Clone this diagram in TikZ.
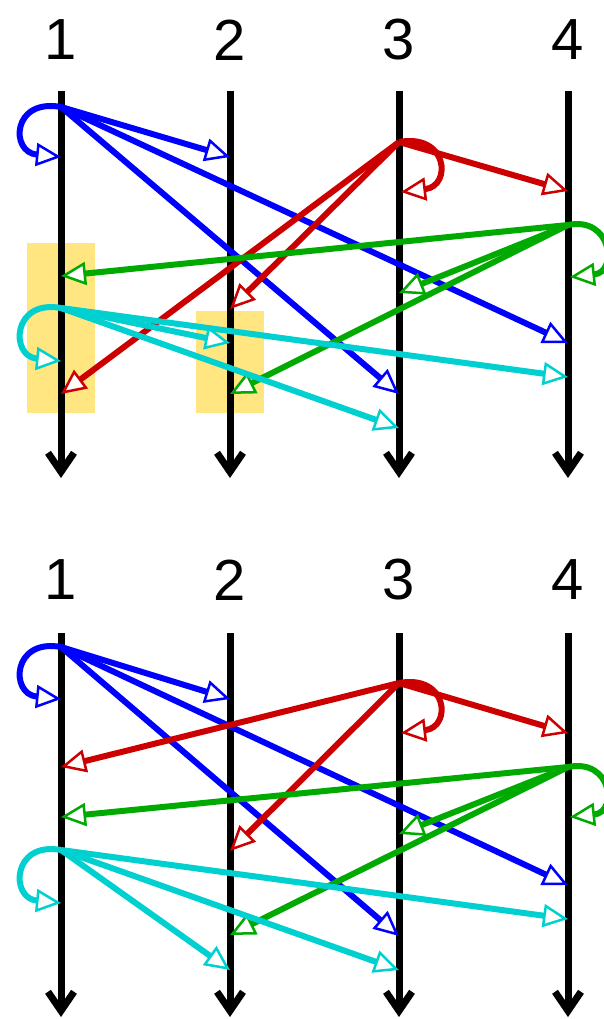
\documentclass[tikz,border=0pt]{standalone}
\usepackage{fontspec}
\setmainfont{Liberation Sans}
\usetikzlibrary{arrows.meta}
\definecolor{msgblue}{RGB}{0,0,255}
\definecolor{msgred}{RGB}{204,0,0}
\definecolor{msggreen}{RGB}{0,170,0}
\definecolor{msgcyan}{RGB}{0,208,208}
\definecolor{hiyellow}{RGB}{255,230,128}
\tikzset{
  proc/.style={line width=7pt, -{Straight Barb[length=19pt,width=26pt]}},
  msg/.style={line width=6pt, -{Triangle[fill=white,length=25pt,width=23pt,line width=2.5pt]}},
  pid/.style={font=\fontsize{58}{58}\selectfont, inner sep=0pt},
  hilite/.style={fill=hiyellow}
}
\begin{document}
\begin{tikzpicture}[x=1pt, y=-1pt]
            \useasboundingbox (0,0) rectangle (603,1019);
            % highlighted receive windows
            \fill[hilite] (27,243) rectangle (95,413);
            \fill[hilite] (196,311) rectangle (264,413);
            % processes, upper run
            \node[pid] (ta) at (61,40) {1};
            \node[pid] (tb) at (230,40) {2};
            \node[pid] (tc) at (399,40) {3};
            \node[pid] (td) at (568,40) {4};
            \coordinate (ta0) at (61,91);  \coordinate (ta1) at (61,478);
            \coordinate (tb0) at (230,91); \coordinate (tb1) at (230,478);
            \coordinate (tc0) at (399,91); \coordinate (tc1) at (399,478);
            \coordinate (td0) at (568,91); \coordinate (td1) at (568,478);
            \draw[proc] (ta0) -- (ta1);
            \draw[proc] (tb0) -- (tb1);
            \draw[proc] (tc0) -- (tc1);
            \draw[proc] (td0) -- (td1);
            \coordinate (tblue) at (61,107);
            \coordinate (tred) at (399,142);
            \coordinate (tgreen) at (568,225);
            \coordinate (tcyan) at (61,308);
            \draw[msg, msgblue] (tblue) .. controls (12,98) and (10,152) .. (61,157);
            \draw[msg, msgblue] (tblue) -- (230,157);
            \draw[msg, msgblue] (tblue) -- (568,343);
            \draw[msg, msgblue] (tblue) -- (399,394);
            \draw[msg, msgred] (tred) .. controls (448,133) and (452,186) .. (401,192);
            \draw[msg, msgred] (tred) -- (568,191);
            \draw[msg, msgred] (tred) -- (230,309);
            \draw[msg, msgred] (tred) -- (61,394);
            \draw[msg, msggreen] (tgreen) .. controls (612,216) and (618,272) .. (570,277);
            \draw[msg, msggreen] (tgreen) -- (61,276);
            \draw[msg, msggreen] (tgreen) -- (399,293);
            \draw[msg, msggreen] (tgreen) -- (230,394);
            \draw[msg, msgcyan] (tcyan) .. controls (12,299) and (10,356) .. (61,361);
            \draw[msg, msgcyan] (tcyan) -- (230,343);
            \draw[msg, msgcyan] (tcyan) -- (568,377);
            \draw[msg, msgcyan] (tcyan) -- (399,428);
            % processes, lower run
            \node[pid] (ba) at (61,580) {1};
            \node[pid] (bb) at (230,580) {2};
            \node[pid] (bc) at (399,580) {3};
            \node[pid] (bd) at (568,580) {4};
            \coordinate (ba0) at (61,633);  \coordinate (ba1) at (61,1017);
            \coordinate (bb0) at (230,633); \coordinate (bb1) at (230,1017);
            \coordinate (bc0) at (399,633); \coordinate (bc1) at (399,1017);
            \coordinate (bd0) at (568,633); \coordinate (bd1) at (568,1017);
            \draw[proc] (ba0) -- (ba1);
            \draw[proc] (bb0) -- (bb1);
            \draw[proc] (bc0) -- (bc1);
            \draw[proc] (bd0) -- (bd1);
            \coordinate (bblue) at (61,647);
            \coordinate (bred) at (399,683);
            \coordinate (bgreen) at (568,767);
            \coordinate (bcyan) at (61,850);
            \draw[msg, msgblue] (bblue) .. controls (12,638) and (10,694) .. (61,699);
            \draw[msg, msgblue] (bblue) -- (230,699);
            \draw[msg, msgblue] (bblue) -- (568,885);
            \draw[msg, msgblue] (bblue) -- (399,936);
            \draw[msg, msgred] (bred) .. controls (448,674) and (452,727) .. (401,733);
            \draw[msg, msgred] (bred) -- (568,733);
            \draw[msg, msgred] (bred) -- (61,767);
            \draw[msg, msgred] (bred) -- (230,851);
            \draw[msg, msggreen] (bgreen) .. controls (612,758) and (618,812) .. (570,817);
            \draw[msg, msggreen] (bgreen) -- (61,817);
            \draw[msg, msggreen] (bgreen) -- (399,834);
            \draw[msg, msggreen] (bgreen) -- (230,935);
            \draw[msg, msgcyan] (bcyan) .. controls (12,841) and (10,898) .. (61,903);
            \draw[msg, msgcyan] (bcyan) -- (568,919);
            \draw[msg, msgcyan] (bcyan) -- (230,970);
            \draw[msg, msgcyan] (bcyan) -- (399,970);
        \end{tikzpicture}
\end{document}
